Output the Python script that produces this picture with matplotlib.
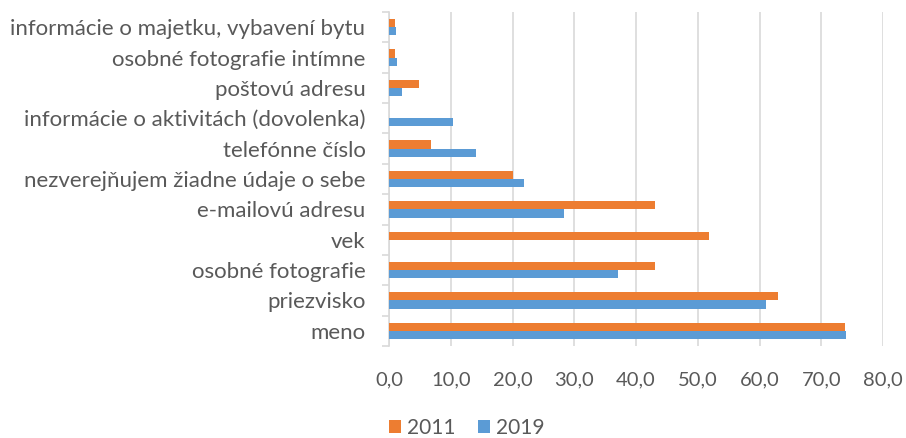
import matplotlib
matplotlib.use("Agg")
import matplotlib.pyplot as plt
import numpy as np
from matplotlib.ticker import FuncFormatter

categories = [
    "meno",
    "priezvisko",
    "osobné fotografie",
    "vek",
    "e-mailovú adresu",
    "nezverejňujem žiadne údaje o sebe",
    "telefónne číslo",
    "informácie o aktivitách (dovolenka)",
    "poštovú adresu",
    "osobné fotografie intímne",
    "informácie o majetku, vybavení bytu",
]
values_2011 = [73.9, 63.0, 43.0, 51.9, 43.0, 20.0, 6.8, 0.0, 4.9, 0.9, 0.9]
values_2019 = [74.0, 61.0, 37.1, 0.0, 28.4, 21.9, 14.1, 10.3, 2.1, 1.3, 1.2]
series_labels = ["2011", "2019"]
xticks = [0, 10, 20, 30, 40, 50, 60, 70, 80]

plt.rcParams['font.family'] = ['Lato', 'DejaVu Sans']

fig = plt.figure(figsize=(9.06, 4.38), dpi=100)
ax = fig.add_axes([389/906, 1 - 346/438, (883-389)/906, (346-12)/438])

y = np.arange(len(categories))
h = 0.27
ax.barh(y + h/2, values_2011, height=h, color="#ED7D31", label=series_labels[0], zorder=3)
ax.barh(y - h/2, values_2019, height=h, color="#5B9BD5", label=series_labels[1], zorder=3)

ax.set_xlim(0, 80)
ax.set_ylim(-0.5, len(categories) - 0.5)
ax.set_xticks(xticks)
ax.xaxis.set_major_formatter(FuncFormatter(lambda v, p: f"{v:.1f}".replace(".", ",")))
ax.set_yticks(y)
ax.set_yticklabels(categories)
ax.set_yticks(np.arange(-0.5, len(categories)), minor=True)

ax.grid(axis="x", color="#D9D9D9", linewidth=1.2, zorder=0)
for s in ["top", "right", "bottom"]:
    ax.spines[s].set_visible(False)
ax.spines["left"].set_color("#D9D9D9")
ax.spines["left"].set_linewidth(1.2)

ax.tick_params(axis="y", which="major", length=0, pad=17, labelsize=16, labelcolor="#595959")
ax.tick_params(axis="y", which="minor", length=5, width=1.2, color="#D9D9D9")
ax.tick_params(axis="x", length=0, pad=18, labelsize=14.5, labelcolor="#595959")

handles, labels = ax.get_legend_handles_labels()
fig.legend(handles, labels, loc="center", bbox_to_anchor=(467/906, 1 - 428/438), ncol=2,
           frameon=False, fontsize=15, labelcolor="#595959", handlelength=0.55,
           handleheight=0.55, handletextpad=0.3, columnspacing=1.1)

fig.savefig("out.png", dpi=100)
